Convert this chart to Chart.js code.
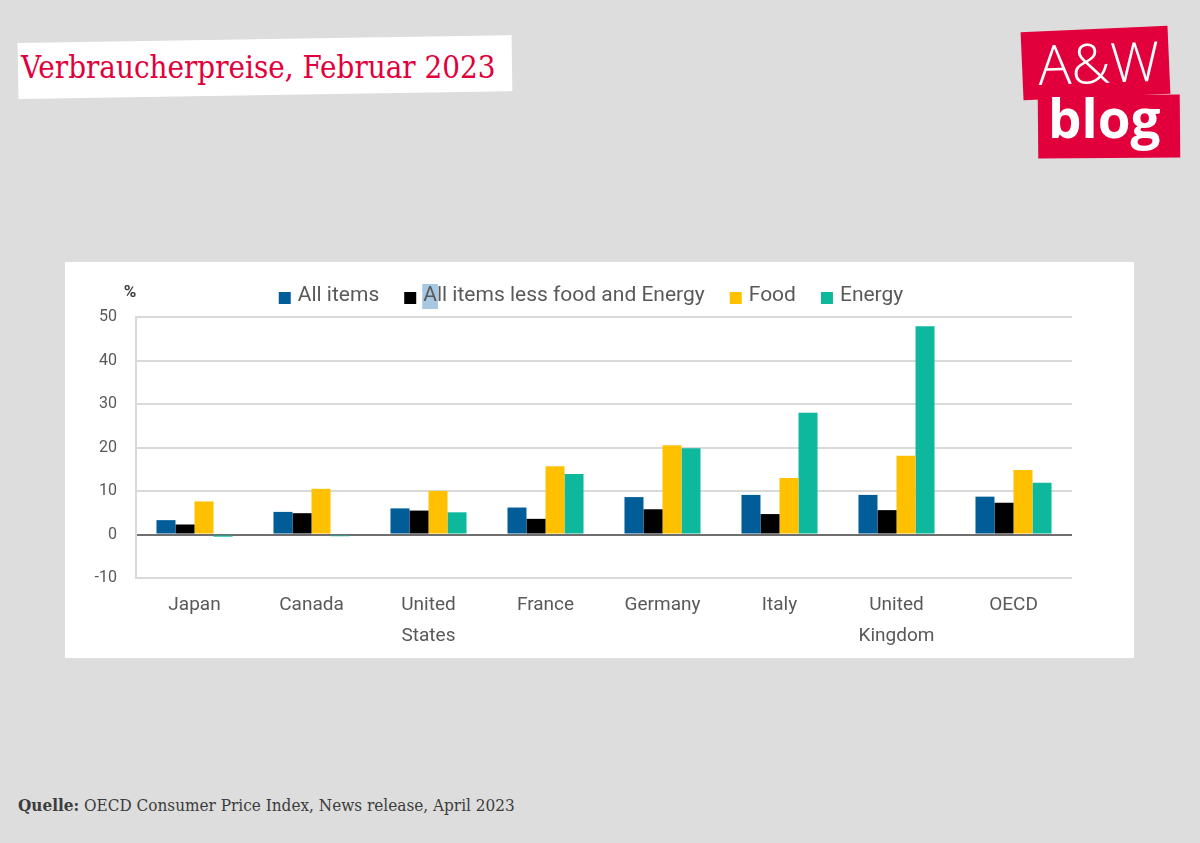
<!DOCTYPE html>
<html>
<head>
<meta charset="utf-8">
<script src="https://cdn.jsdelivr.net/npm/chart.js@4.4.0/dist/chart.umd.min.js"></script>
<style>
  html, body { margin: 0; padding: 0; }
  body { width: 1200px; height: 843px; background: #dddddd; position: relative; overflow: hidden; }
  .title-box { position: absolute; left: 18px; top: 39px; width: 494px; height: 56px; background: #fff; transform: rotate(-0.9deg); }
  .title { position: absolute; left: 21px; top: 49px; font-family: "DejaVu Serif Condensed", "DejaVu Serif", serif; font-size: 31px; color: #e2003c; white-space: nowrap; }
  .logo1 { position: absolute; left: 1022px; top: 29px; width: 147px; height: 68px; background: #e2003c; transform: rotate(-2.5deg); }
  .logo2 { position: absolute; left: 1038px; top: 95px; width: 142px; height: 63px; background: #e2003c; transform: rotate(-0.5deg); }
  .logo-aw { position: absolute; left: 1038px; top: 30px; font-family: "Open Sans", "DejaVu Sans", sans-serif; font-weight: 300; font-size: 55px; color: #fff; line-height: 64px; transform: rotate(-2deg); }
  .logo-blog { position: absolute; left: 1048px; top: 86px; font-family: "Open Sans", "DejaVu Sans", sans-serif; font-weight: 700; font-size: 53px; color: #fff; line-height: 64px; }
  .card { position: absolute; left: 65px; top: 262px; width: 1069px; height: 396px; background: #fff; }
  .source { position: absolute; left: 18px; top: 795px; font-family: "DejaVu Serif Condensed", "DejaVu Serif", serif; font-size: 17px; color: #3c3c3c; white-space: nowrap; }
</style>
</head>
<body>
<div class="title-box"></div>
<div class="title">Verbraucherpreise, Februar 2023</div>
<div class="logo1"></div>
<div class="logo2"></div>
<div class="logo-aw">A&amp;W</div>
<div class="logo-blog">blog</div>
<div class="card"><canvas id="chart" width="1069" height="396"></canvas></div>
<div class="source"><b>Quelle:</b> OECD Consumer Price Index, News release, April 2023</div>
<script>
const countries = ['Japan', 'Canada', ['United', 'States'], 'France', 'Germany', 'Italy', ['United', 'Kingdom'], 'OECD'];
const seriesNames = ['All items', 'All items less food and Energy', 'Food', 'Energy'];
const allItems = [3.3, 5.2, 6.0, 6.2, 8.6, 9.1, 9.1, 8.7];
const coreItems = [2.3, 4.9, 5.5, 3.6, 5.8, 4.7, 5.6, 7.3];
const food = [7.6, 10.5, 10.0, 15.7, 20.5, 13.0, 18.1, 14.8];
const energy = [-0.5, -0.4, 5.1, 13.9, 19.8, 28.0, 47.9, 11.9];
const yTicks = [-10, 0, 10, 20, 30, 40, 50];
const colors = ['#005d97', '#000000', '#ffc000', '#0db89d'];

const textFont = 'Roboto, "Noto Sans", sans-serif';

// legend drawn by hand so it sits exactly where the original has it
const legendPlugin = {
  id: 'manualLegend',
  afterDraw(chart) {
    const ctx = chart.ctx;
    ctx.save();
    ctx.font = '21px ' + textFont;
    ctx.textBaseline = 'middle';
    const y = 34;
    const box = 12, gap = 7, spacing = 25;
    const sets = chart.data.datasets;
    let total = 0;
    sets.forEach((d, i) => {
      total += box + gap + ctx.measureText(d.label).width + (i < sets.length - 1 ? spacing : 0);
    });
    let x = 526 - total / 2;
    sets.forEach((d, i) => {
      ctx.fillStyle = d.backgroundColor;
      ctx.fillRect(x, y - 4, box, box);
      x += box + gap;
      if (i === 1) {
        ctx.fillStyle = 'rgba(120,170,210,0.65)';
        ctx.fillRect(x - 1, y - 12, ctx.measureText('A').width + 2, 25);
      }
      ctx.fillStyle = '#595959';
      ctx.fillText(d.label, x, y);
      x += ctx.measureText(d.label).width + spacing;
    });
    // unit label
    ctx.font = 'bold 17px ' + textFont;
    ctx.fillStyle = '#404040';
    ctx.textAlign = 'center';
    ctx.fillText('%', 65, 31);
    ctx.restore();
  }
};

new Chart(document.getElementById('chart'), {
  type: 'bar',
  data: {
    labels: countries,
    datasets: [allItems, coreItems, food, energy].map((vals, i) => ({
      label: seriesNames[i],
      data: vals,
      backgroundColor: colors[i],
      borderWidth: 0,
      barPercentage: 1.0,
      categoryPercentage: 0.65
    }))
  },
  options: {
    responsive: false,
    animation: false,
    layout: { padding: { top: 55, right: 62, left: 0, bottom: 0 } },
    plugins: {
      legend: { display: false },
      tooltip: { enabled: false }
    },
    scales: {
      x: {
        grid: { display: false },
        border: { display: false },
        ticks: {
          color: '#595959',
          font: { family: textFont, size: 19, lineHeight: 1.63 },
          padding: 4,
          maxRotation: 0,
          autoSkip: false
        },
        afterFit(scale) { scale.height = 80; }
      },
      y: {
        min: -10,
        max: 50,
        afterBuildTicks(scale) { scale.ticks = yTicks.map(v => ({ value: v })); },
        grid: {
          drawTicks: false,
          color: ctx => ctx.tick && ctx.tick.value === 0 ? '#6e6e6e' : '#d9d9d9',
          lineWidth: 2
        },
        border: { display: true, color: '#d9d9d9', width: 2 },
        ticks: {
          color: '#595959',
          font: { family: textFont, size: 16 },
          padding: 19
        },
        afterFit(scale) { scale.width = 71; }
      }
    }
  },
  plugins: [legendPlugin]
});
</script>
</body>
</html>
